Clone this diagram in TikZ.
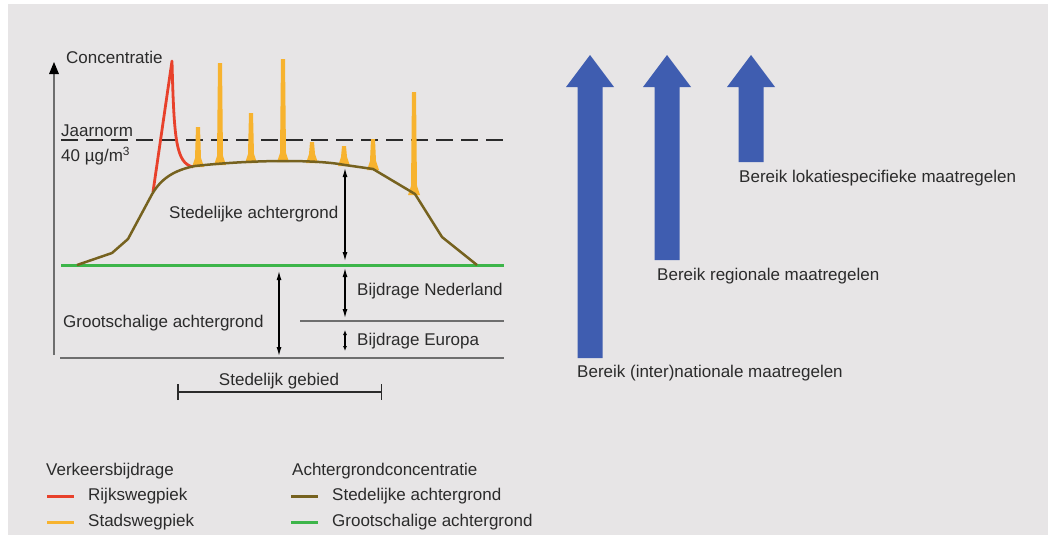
\documentclass[tikz,border=0pt]{standalone}
\usepackage{fontspec}
\setmainfont{Liberation Sans}
\usetikzlibrary{arrows.meta}
\definecolor{achtergrond}{HTML}{E7E5E6}
\definecolor{tekst}{HTML}{2B2B2B}
\definecolor{rood}{HTML}{E8412B}
\definecolor{oranje}{HTML}{F7B32F}
\definecolor{bruin}{HTML}{76621F}
\definecolor{groen}{HTML}{3DB54A}
\definecolor{blauw}{HTML}{3F5DB0}
\definecolor{lijn}{HTML}{6E6E6E}
\tikzset{
  lbl/.style = {inner sep=0pt, anchor=west, text=tekst, font=\fontsize{17}{20}\selectfont},
  rijksweg/.style = {draw=rood, line width=2.8pt, line join=round},
  stadsweg/.style = {fill=oranje},
  stedelijk/.style = {draw=bruin, line width=2.5pt, line join=round},
  grootschalig/.style = {draw=groen, line width=3pt},
  grens/.style = {draw=lijn, line width=1.8pt},
  norm/.style = {draw=tekst, line width=2.5pt, dash pattern=on 17pt off 8pt},
  maat/.style = {draw=black, line width=1.2pt, {Latex[length=9pt,width=5pt]}-{Latex[length=9pt,width=5pt]}},
  bereik/.style = {fill=blauw},
}
\newcommand{\legendline}[2]{\draw[#1, line width=3pt] ([xshift=-41pt]#2.west) -- ([xshift=-14pt]#2.west)}

\begin{document}
\begin{tikzpicture}[x=1pt, y=-1pt]
  \useasboundingbox (0,0) rectangle (1048,539);
  \fill[achtergrond] (8,4) rectangle (1048,535);

  \draw[draw=lijn, line width=1.5pt] (54,355) -- (54,72);
  \fill[black] (49,74) -- (54,62) -- (59,74) -- cycle;
  \node[lbl] (conc) at (66,57) {Concentratie};

  \draw[grens] (60,358) -- (504,358);
  \draw[grens, line width=1.5pt] (300,321) -- (504,321);
  \draw[norm] (61,140) -- (504,140);
  \node[lbl] (jaarnorm) at (61,131) {Jaarnorm};
  \node[lbl] (grenswaarde) at (61,156) {40 µg/m\textsuperscript{3}};

  \foreach \x/\t/\b in {198/127/166, 220/63/164, 251/113/162, 283/59/161, 312/142/162, 344/146/165, 373/139/169, 414/92/194}
    \fill[stadsweg] (\x-6,\b+1) -- (\x-3,\b-8) -- (\x-2,\t) -- (\x+2,\t) -- (\x+3,\b-8) -- (\x+6,\b+1) -- cycle;

  \draw[rijksweg] (153,192) -- (172,61) .. controls (174,140) and (176,163) .. (193,167);

  \draw[grootschalig] (61,265) -- (504,265);
  \draw[stedelijk] (77,265) -- (112,253) -- (128,239) -- (150,198) .. controls (160,178) and (175,170) .. (195,166)
    .. controls (260,159) and (320,160) .. (345,165) -- (373,169) -- (415,194) -- (442,237) -- (477,265);

  \coordinate (sa top) at (345,168);
  \coordinate (sa bot) at (345,261);
  \coordinate (nl top) at (345,268);
  \coordinate (nl bot) at (345,318);
  \coordinate (eu top) at (345,330);
  \coordinate (eu bot) at (345,351);
  \coordinate (ga top) at (279,271);
  \coordinate (ga bot) at (279,356);
  \draw[maat] (sa top) -- (sa bot);
  \draw[maat] (nl top) -- (nl bot);
  \draw[maat, {Latex[length=5pt,width=4pt]}-{Latex[length=5pt,width=4pt]}] (eu top) -- (eu bot);
  \draw[maat] (ga top) -- (ga bot);

  \node[lbl] (stedelijk) at (169,214) {Stedelijke achtergrond};
  \node[lbl] (nederland) at (357,291) {Bijdrage Nederland};
  \node[lbl] (europa) at (357,341) {Bijdrage Europa};
  \node[lbl] (grootschalig) at (63,323) {Grootschalige achtergrond};

  \coordinate (sg west) at (177,392);
  \coordinate (sg east) at (382,392);
  \draw[draw=tekst, line width=1.5pt, {Bar[width=16pt]}-{Bar[width=16pt]}] (sg west) -- (sg east);
  \node[lbl, anchor=center] (gebied) at (279,381) {Stedelijk gebied};

  \foreach \x/\b in {590/358, 667/260, 751/162}
    \fill[bereik] (\x-12.5,\b) -- (\x-12.5,87) -- (\x-24,87) -- (\x,55) -- (\x+24,87) -- (\x+12.5,87) -- (\x+12.5,\b) -- cycle;
  \node[lbl] (lokaal) at (739,178) {Bereik lokatiespecifieke maatregelen};
  \node[lbl] (regionaal) at (657,276) {Bereik regionale maatregelen};
  \node[lbl] (nationaal) at (577,373) {Bereik (inter)nationale maatregelen};

  \node[lbl] (verkeer) at (46,471) {Verkeersbijdrage};
  \node[lbl] (rijks) at (88,496) {Rijkswegpiek};
  \node[lbl] (stads) at (88,522) {Stadswegpiek};
  \node[lbl] (achtergrondc) at (292,471) {Achtergrondconcentratie};
  \node[lbl] (legstedelijk) at (332,496) {Stedelijke achtergrond};
  \node[lbl] (leggroot) at (332,522) {Grootschalige achtergrond};
  \legendline{rood}{rijks};
  \legendline{oranje}{stads};
  \legendline{bruin}{legstedelijk};
  \legendline{groen}{leggroot};
\end{tikzpicture}
\end{document}
